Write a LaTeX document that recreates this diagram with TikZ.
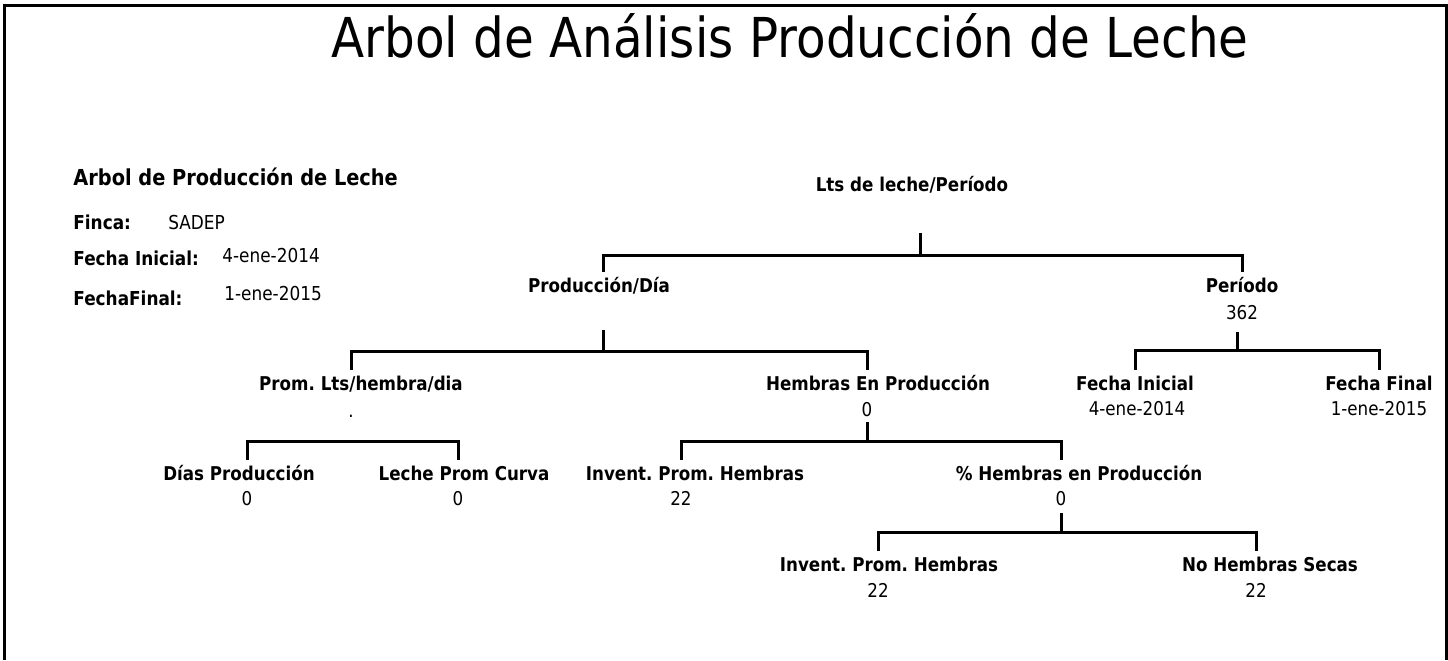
\documentclass[tikz,border=0pt]{standalone}
\usepackage{fontspec}
\setmainfont{DejaVu Sans}[FakeStretch=0.88]
\begin{document}
\frenchspacing
\begin{tikzpicture}[x=0.5pt,y=-0.5pt,line join=miter]
\tikzset{lbl/.style={font=\bfseries\fontsize{9.5}{11}\selectfont, inner xsep=0pt, inner ysep=0pt, text height=10pt, text depth=3pt},
         val/.style={font=\fontsize{9.5}{11}\selectfont, inner xsep=0pt, inner ysep=0pt, text height=10pt, text depth=3pt},
         infolbl/.style={lbl, anchor=west, font=\bfseries\fontsize{9.6}{11}\selectfont},
         infoval/.style={val, anchor=west, font=\fontsize{9.6}{11}\selectfont},
         branch/.style={line width=1.5pt}}
\useasboundingbox (0,0) rectangle (1448,660);
\draw[line width=1.5pt] (4.5,660) -- (4.5,5.5) -- (1446.5,5.5) -- (1446.5,660);
% titulo
\node[font=\fontsize{27.5}{32}\selectfont, anchor=base, inner sep=0pt] (title) at (790,57) {Arbol de Análisis Producción de Leche};
% datos de la finca
\node[infolbl, font=\bfseries\fontsize{11}{13}\selectfont] (arbol) at (73,178) {Arbol de Producción de Leche};
\node[infolbl] (finca) at (73,222) {Finca:};
\node[infoval] (fincav) at (168,222) {SADEP};
\node[infolbl] (fini0) at (73,258) {Fecha Inicial:};
\node[infoval] (fini0v) at (222,255) {4-ene-2014};
\node[infolbl] (ffin0) at (73,298) {FechaFinal:};
\node[infoval] (ffin0v) at (224,293) {1-ene-2015};
% arbol
\node[lbl] (root) at (912,184) {Lts de leche/Período};
\node[lbl] (prodia) at (599,285) {Producción/Día};
\node[lbl] (periodo) at (1242,285) {Período};
\node[val] (periodov) at (1242,312) {362};
\node[lbl] (promlts) at (361,383) {Prom. Lts/hembra/dia};
\node[val] (promltsv) at (351,410) {.};
\node[lbl] (hembprod) at (878,383) {Hembras En Producción};
\node[val] (hembprodv) at (867,409) {0};
\node[lbl] (fini) at (1135,383) {Fecha Inicial};
\node[val] (finiv) at (1137,408) {4-ene-2014};
\node[lbl] (ffin) at (1379,383) {Fecha Final};
\node[val] (ffinv) at (1379,408) {1-ene-2015};
\node[lbl] (dias) at (239,473) {Días Producción};
\node[val] (diasv) at (247,498) {0};
\node[lbl] (lechec) at (464,473) {Leche Prom Curva};
\node[val] (lechecv) at (458,498) {0};
\node[lbl] (invent) at (695,473) {Invent. Prom. Hembras};
\node[val] (inventv) at (681,498) {22};
\node[lbl] (porc) at (1079,473) {\% Hembras en Producción};
\node[val] (porcv) at (1061,498) {0};
\node[lbl] (invent2) at (889,564) {Invent. Prom. Hembras};
\node[val] (invent2v) at (878,590) {22};
\node[lbl] (secas) at (1270,564) {No Hembras Secas};
\node[val] (secasv) at (1256,590) {22};
% conectores
\draw[branch] (root.center) ++(8,49) -- ++(0,22) coordinate (rootj);
\draw[branch] ([xshift=2pt]prodia.north) |- (rootj) -| (periodo.north -| periodov);
\draw[branch] (prodia.center) ++(4,45) -- ++(0,21) coordinate (prodiaj);
\draw[branch] (promlts.north -| promltsv) |- (prodiaj) -| (hembprod.north -| hembprodv);
\draw[branch] (periodov.center) ++(-5,20) -- ++(0,18) coordinate (periodoj);
\draw[branch] (fini.north) |- (periodoj) -| (ffin.north -| ffinv);
\draw[branch] (promltsv.center) ++(0,31) coordinate (promltsj);
\draw[branch] (dias.north -| diasv) |- (promltsj) -| (lechec.north -| lechecv);
\draw[branch] (hembprodv.center) ++(0,13) -- ++(0,19) coordinate (hembprodj);
\draw[branch] (invent.north -| inventv) |- (hembprodj) -| (porc.north -| porcv);
\draw[branch] (porcv.center) ++(0,15) -- ++(0,19) coordinate (porcj);
\draw[branch] (invent2.north -| invent2v) |- (porcj) -| (secas.north -| secasv);
\end{tikzpicture}
\end{document}
